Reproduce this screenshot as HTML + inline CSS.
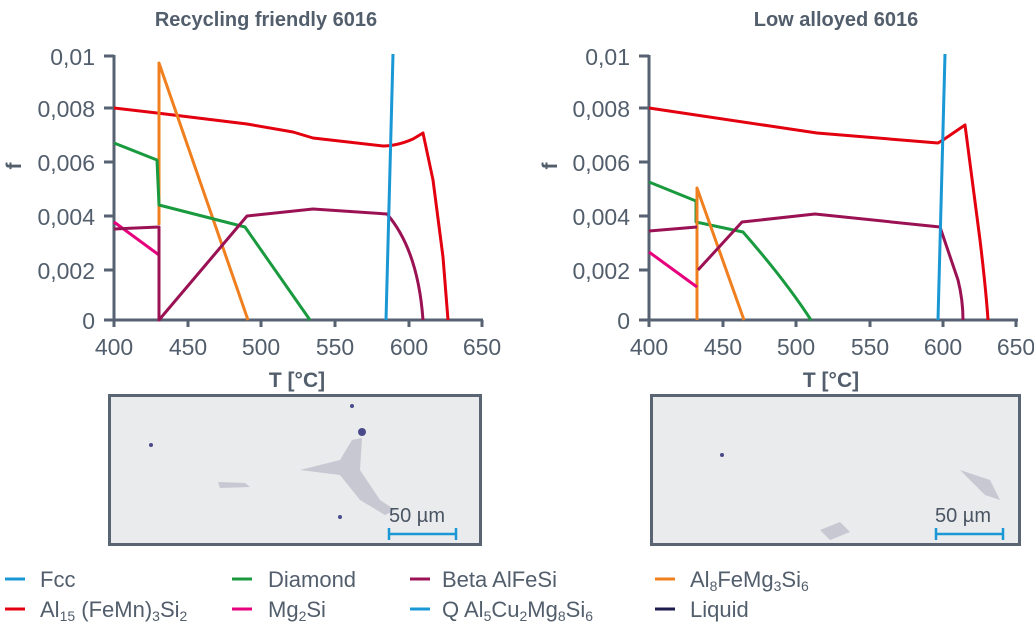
<!DOCTYPE html>
<html><head><meta charset="utf-8"><style>
html,body{margin:0;padding:0;background:#fff;}
svg{display:block;font-family:"Liberation Sans",sans-serif;}
</style></head><body>
<svg width="1034" height="630" viewBox="0 0 1034 630" xmlns="http://www.w3.org/2000/svg">
<g fill="#525e6c">
<text x="266" y="26" font-size="20" font-weight="bold" text-anchor="middle">Recycling friendly 6016</text>
<text x="836" y="26" font-size="20" font-weight="bold" text-anchor="middle">Low alloyed 6016</text>
</g>
<g stroke="#566271" stroke-width="3" fill="none">
<path d="M114,55 V320 H483"/>
<path d="M104,56 H114 M104,108 H114 M104,162 H114 M104,216 H114 M104,270 H114 M104,320 H114"/>
<path d="M114,320 V327 M188,320 V327 M261,320 V327 M335,320 V327 M409,320 V327 M482,320 V327"/>
<path d="M649,55 V320 H1018"/>
<path d="M639,56 H649 M639,108 H649 M639,162 H649 M639,216 H649 M639,270 H649 M639,320 H649"/>
<path d="M649,320 V327 M723,320 V327 M796,320 V327 M870,320 V327 M943,320 V327 M1016,320 V327"/>
</g>
<g fill="#525e6c" font-size="23" text-anchor="end">
<text x="95" y="65">0,01</text><text x="95" y="117">0,008</text><text x="95" y="171">0,006</text>
<text x="95" y="225">0,004</text><text x="95" y="279">0,002</text><text x="95" y="329">0</text>
<text x="630" y="65">0,01</text><text x="630" y="117">0,008</text><text x="630" y="171">0,006</text>
<text x="630" y="225">0,004</text><text x="630" y="279">0,002</text><text x="630" y="329">0</text>
</g>
<g fill="#525e6c" font-size="23" text-anchor="middle">
<text x="114" y="355">400</text><text x="188" y="355">450</text><text x="261" y="355">500</text>
<text x="335" y="355">550</text><text x="409" y="355">600</text><text x="482" y="355">650</text>
<text x="649" y="355">400</text><text x="723" y="355">450</text><text x="796" y="355">500</text>
<text x="870" y="355">550</text><text x="943" y="355">600</text><text x="1016" y="355">650</text>
<text x="297" y="387" font-size="21" font-weight="bold">T [°C]</text>
<text x="831" y="387" font-size="21" font-weight="bold">T [°C]</text>
<text transform="translate(21,166) rotate(-90)" font-size="21" font-weight="bold">f</text>
<text transform="translate(557,166) rotate(-90)" font-size="21" font-weight="bold">f</text>
</g>
<g fill="none" stroke-width="3" stroke-linejoin="round">
<path stroke="#e3000f" d="M114,108 L157,113 L247,124 L293,132 L313,138 L383,146 Q397,146 413,139 L423,133 L433,180 L443,257 L448,320"/>
<path stroke="#f07f1f" d="M159,225 V63 L248,320"/>
<path stroke="#1a9a3e" d="M114,143 L157,160 L159,205 L245,227 L310,320"/>
<path stroke="#e6007e" d="M114,222 L159,255"/>
<path stroke="#9b1254" d="M114,229 L159,227 V320 L247,216 L313,209 L387,214 Q418,250 423,320"/>
<path stroke="#1a97d5" d="M386,320 L393,54"/>
<path stroke="#e3000f" d="M649,108 L817,133 L938,143 L943,140 L965,125 L980,240 Q986,290 988,320"/>
<path stroke="#1a9a3e" d="M649,182 L696,201 L696,222 L743,232 Q785,280 811,320"/>
<path stroke="#f07f1f" d="M697,320 V188 L744,320"/>
<path stroke="#9b1254" d="M649,231 L697,227 M698,270 L742,222 L815,214 L940,227 L958,280 Q963,300 963,320"/>
<path stroke="#e6007e" d="M649,252 L697,287"/>
<path stroke="#1a97d5" d="M938,320 L945,54"/>
</g>
<rect x="109.5" y="395.5" width="371" height="149" fill="#eaebed" stroke="#5a6573" stroke-width="3"/>
<rect x="651.5" y="395.5" width="368" height="149" fill="#eaebed" stroke="#5a6573" stroke-width="3"/>
<g fill="#c7c8d2">
<path d="M300,470 L340,460 L352,440 L362,438 L360,470 L380,500 L395,510 L385,515 L360,500 L340,475 Z"/>
<path d="M218,482 L245,483 L250,487 L220,488 Z"/>
<path d="M820,530 L840,522 L850,532 L830,540 Z"/>
<path d="M960,470 L990,480 L1000,500 L985,495 Z"/>
</g>
<g fill="#4a4a8a"><circle cx="362" cy="432" r="4"/><circle cx="352" cy="406" r="2"/><circle cx="151" cy="445" r="2"/><circle cx="340" cy="517" r="2"/><circle cx="722" cy="455" r="2"/></g>
<g fill="#4a5563" font-size="20"><text x="389" y="522">50 µm</text><text x="935" y="522">50 µm</text></g>
<g stroke="#1a97d5" stroke-width="2.5"><path d="M388,534 H457 M389,528 V540 M456,528 V540"/><path d="M935,534 H1004 M936,528 V540 M1003,528 V540"/></g>
<g stroke-width="3">
<path stroke="#1a97d5" d="M5,579 H25"/><path stroke="#e3000f" d="M5,609 H25"/>
<path stroke="#1a9a3e" d="M232,579 H252"/><path stroke="#e6007e" d="M232,609 H252"/>
<path stroke="#9b1254" d="M410,579 H430"/><path stroke="#1a97d5" d="M410,609 H430"/>
<path stroke="#f07f1f" d="M655,579 H675"/><path stroke="#1e1b4f" d="M655,609 H675"/>
</g>
<g fill="#525e6c" font-size="22">
<text x="40" y="587">Fcc</text>
<text x="40" y="617">Al<tspan font-size="14" dy="4">15</tspan><tspan dy="-4"> (FeMn)</tspan><tspan font-size="14" dy="4">3</tspan><tspan dy="-4">Si</tspan><tspan font-size="14" dy="4">2</tspan></text>
<text x="268" y="587">Diamond</text>
<text x="268" y="617">Mg<tspan font-size="14" dy="4">2</tspan><tspan dy="-4">Si</tspan></text>
<text x="442" y="587">Beta AlFeSi</text>
<text x="442" y="617">Q Al<tspan font-size="14" dy="4">5</tspan><tspan dy="-4">Cu</tspan><tspan font-size="14" dy="4">2</tspan><tspan dy="-4">Mg</tspan><tspan font-size="14" dy="4">8</tspan><tspan dy="-4">Si</tspan><tspan font-size="14" dy="4">6</tspan></text>
<text x="690" y="587">Al<tspan font-size="14" dy="4">8</tspan><tspan dy="-4">FeMg</tspan><tspan font-size="14" dy="4">3</tspan><tspan dy="-4">Si</tspan><tspan font-size="14" dy="4">6</tspan></text>
<text x="690" y="617">Liquid</text>
</g>
</svg>
</body></html>
